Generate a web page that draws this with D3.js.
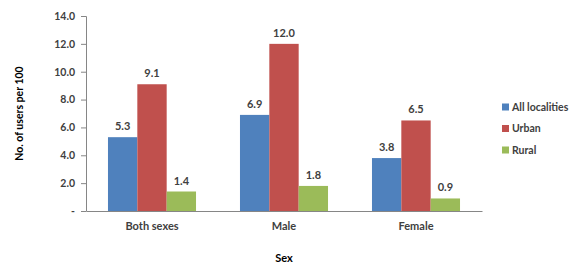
<!DOCTYPE html>
<html>
<head>
<meta charset="utf-8">
<script src="https://cdn.jsdelivr.net/npm/d3@7"></script>
<style>
  body { margin: 0; background: #fff; }
  text { font-family: Lato, "Open Sans", sans-serif; font-weight: bold; }
</style>
</head>
<body>
<div id="chart"></div>
<script>
// chart data
var categories = ["Both sexes", "Male", "Female"];
var seriesNames = ["All localities", "Urban", "Rural"];
var allLocalities = [5.3, 6.9, 3.8];
var urban = [9.1, 12.0, 6.5];
var rural = [1.4, 1.8, 0.9];
var yTicks = [0, 2, 4, 6, 8, 10, 12, 14];

var colors = ["#4F81BD", "#C0504D", "#9BBB59"];
var seriesValues = [allLocalities, urban, rural];

var margin = { top: 16, right: 97, bottom: 54, left: 86 };
var width = 579 - margin.left - margin.right,
    height = 265 - margin.top - margin.bottom;

var svg = d3.select("#chart").append("svg")
    .attr("width", 579)
    .attr("height", 265)
  .append("g")
    .attr("transform", "translate(" + margin.left + "," + margin.top + ")");

var x0 = d3.scaleBand()
    .domain(categories)
    .range([0, width])
    .paddingInner(0.333)
    .paddingOuter(0.1665);

var x1 = d3.scaleBand()
    .domain(seriesNames)
    .range([0, x0.bandwidth()]);

var y = d3.scaleLinear()
    .domain([0, 14])
    .range([height, 0]);

// y axis
var yAxis = d3.axisLeft(y)
    .tickValues(yTicks)
    .tickSize(5)
    .tickPadding(6)
    .tickFormat(function(d) { return d === 0 ? "-" : d.toFixed(1); });

var gy = svg.append("g").attr("class", "y-axis").call(yAxis);
gy.select(".domain").attr("stroke", "#868686").attr("d", "M-5,0.5H0.5V" + (height + 0.5));
gy.selectAll(".tick line").attr("stroke", "#868686");
gy.selectAll(".tick text").attr("fill", "#404040").style("font-size", "10.5px");

// x axis
var gx = svg.append("g")
    .attr("transform", "translate(0," + height + ")")
    .call(d3.axisBottom(x0).tickSize(0).tickPadding(11));
gx.select(".domain").attr("stroke", "#868686");
gx.selectAll(".tick text").attr("fill", "#404040").style("font-size", "11px");

// bars
var groups = svg.selectAll(".group")
    .data(categories)
  .enter().append("g")
    .attr("transform", function(d) { return "translate(" + x0(d) + ",0)"; });

groups.selectAll("rect")
    .data(function(d, i) {
      return seriesNames.map(function(s, j) { return { s: s, v: seriesValues[j][i], c: colors[j] }; });
    })
  .enter().append("rect")
    .attr("x", function(d) { return x1(d.s); })
    .attr("y", function(d) { return y(d.v); })
    .attr("width", x1.bandwidth())
    .attr("height", function(d) { return height - y(d.v); })
    .attr("fill", function(d) { return d.c; });

groups.selectAll(".lbl")
    .data(function(d, i) {
      return seriesNames.map(function(s, j) { return { s: s, v: seriesValues[j][i] }; });
    })
  .enter().append("text")
    .attr("class", "lbl")
    .attr("x", function(d) { return x1(d.s) + x1.bandwidth() / 2; })
    .attr("y", function(d) { return y(d.v) - 7; })
    .attr("text-anchor", "middle")
    .attr("fill", "#404040")
    .style("font-size", "11px")
    .text(function(d) { return d.v.toFixed(1); });

// axis titles
svg.append("text")
    .attr("transform", "translate(-63," + (height / 2) + ") rotate(-90)")
    .attr("text-anchor", "middle")
    .attr("fill", "#000")
    .style("font-size", "10.5px")
    .text("No. of users per 100");

svg.append("text")
    .attr("x", width / 2)
    .attr("y", height + 51)
    .attr("text-anchor", "middle")
    .attr("fill", "#000")
    .style("font-size", "11px")
    .text("Sex");

// legend
var legend = svg.append("g").attr("transform", "translate(" + (width + 20) + ",91)");
var li = legend.selectAll("g")
    .data(seriesNames)
  .enter().append("g")
    .attr("transform", function(d, i) { return "translate(0," + (i * 21.5) + ")"; });
li.append("rect")
    .attr("width", 7).attr("height", 7).attr("y", -3.5)
    .attr("fill", function(d, i) { return colors[i]; });
li.append("text")
    .attr("x", 10).attr("dy", "0.35em")
    .attr("fill", "#404040")
    .style("font-size", "10.5px")
    .text(function(d) { return d; });
</script>
</body>
</html>
